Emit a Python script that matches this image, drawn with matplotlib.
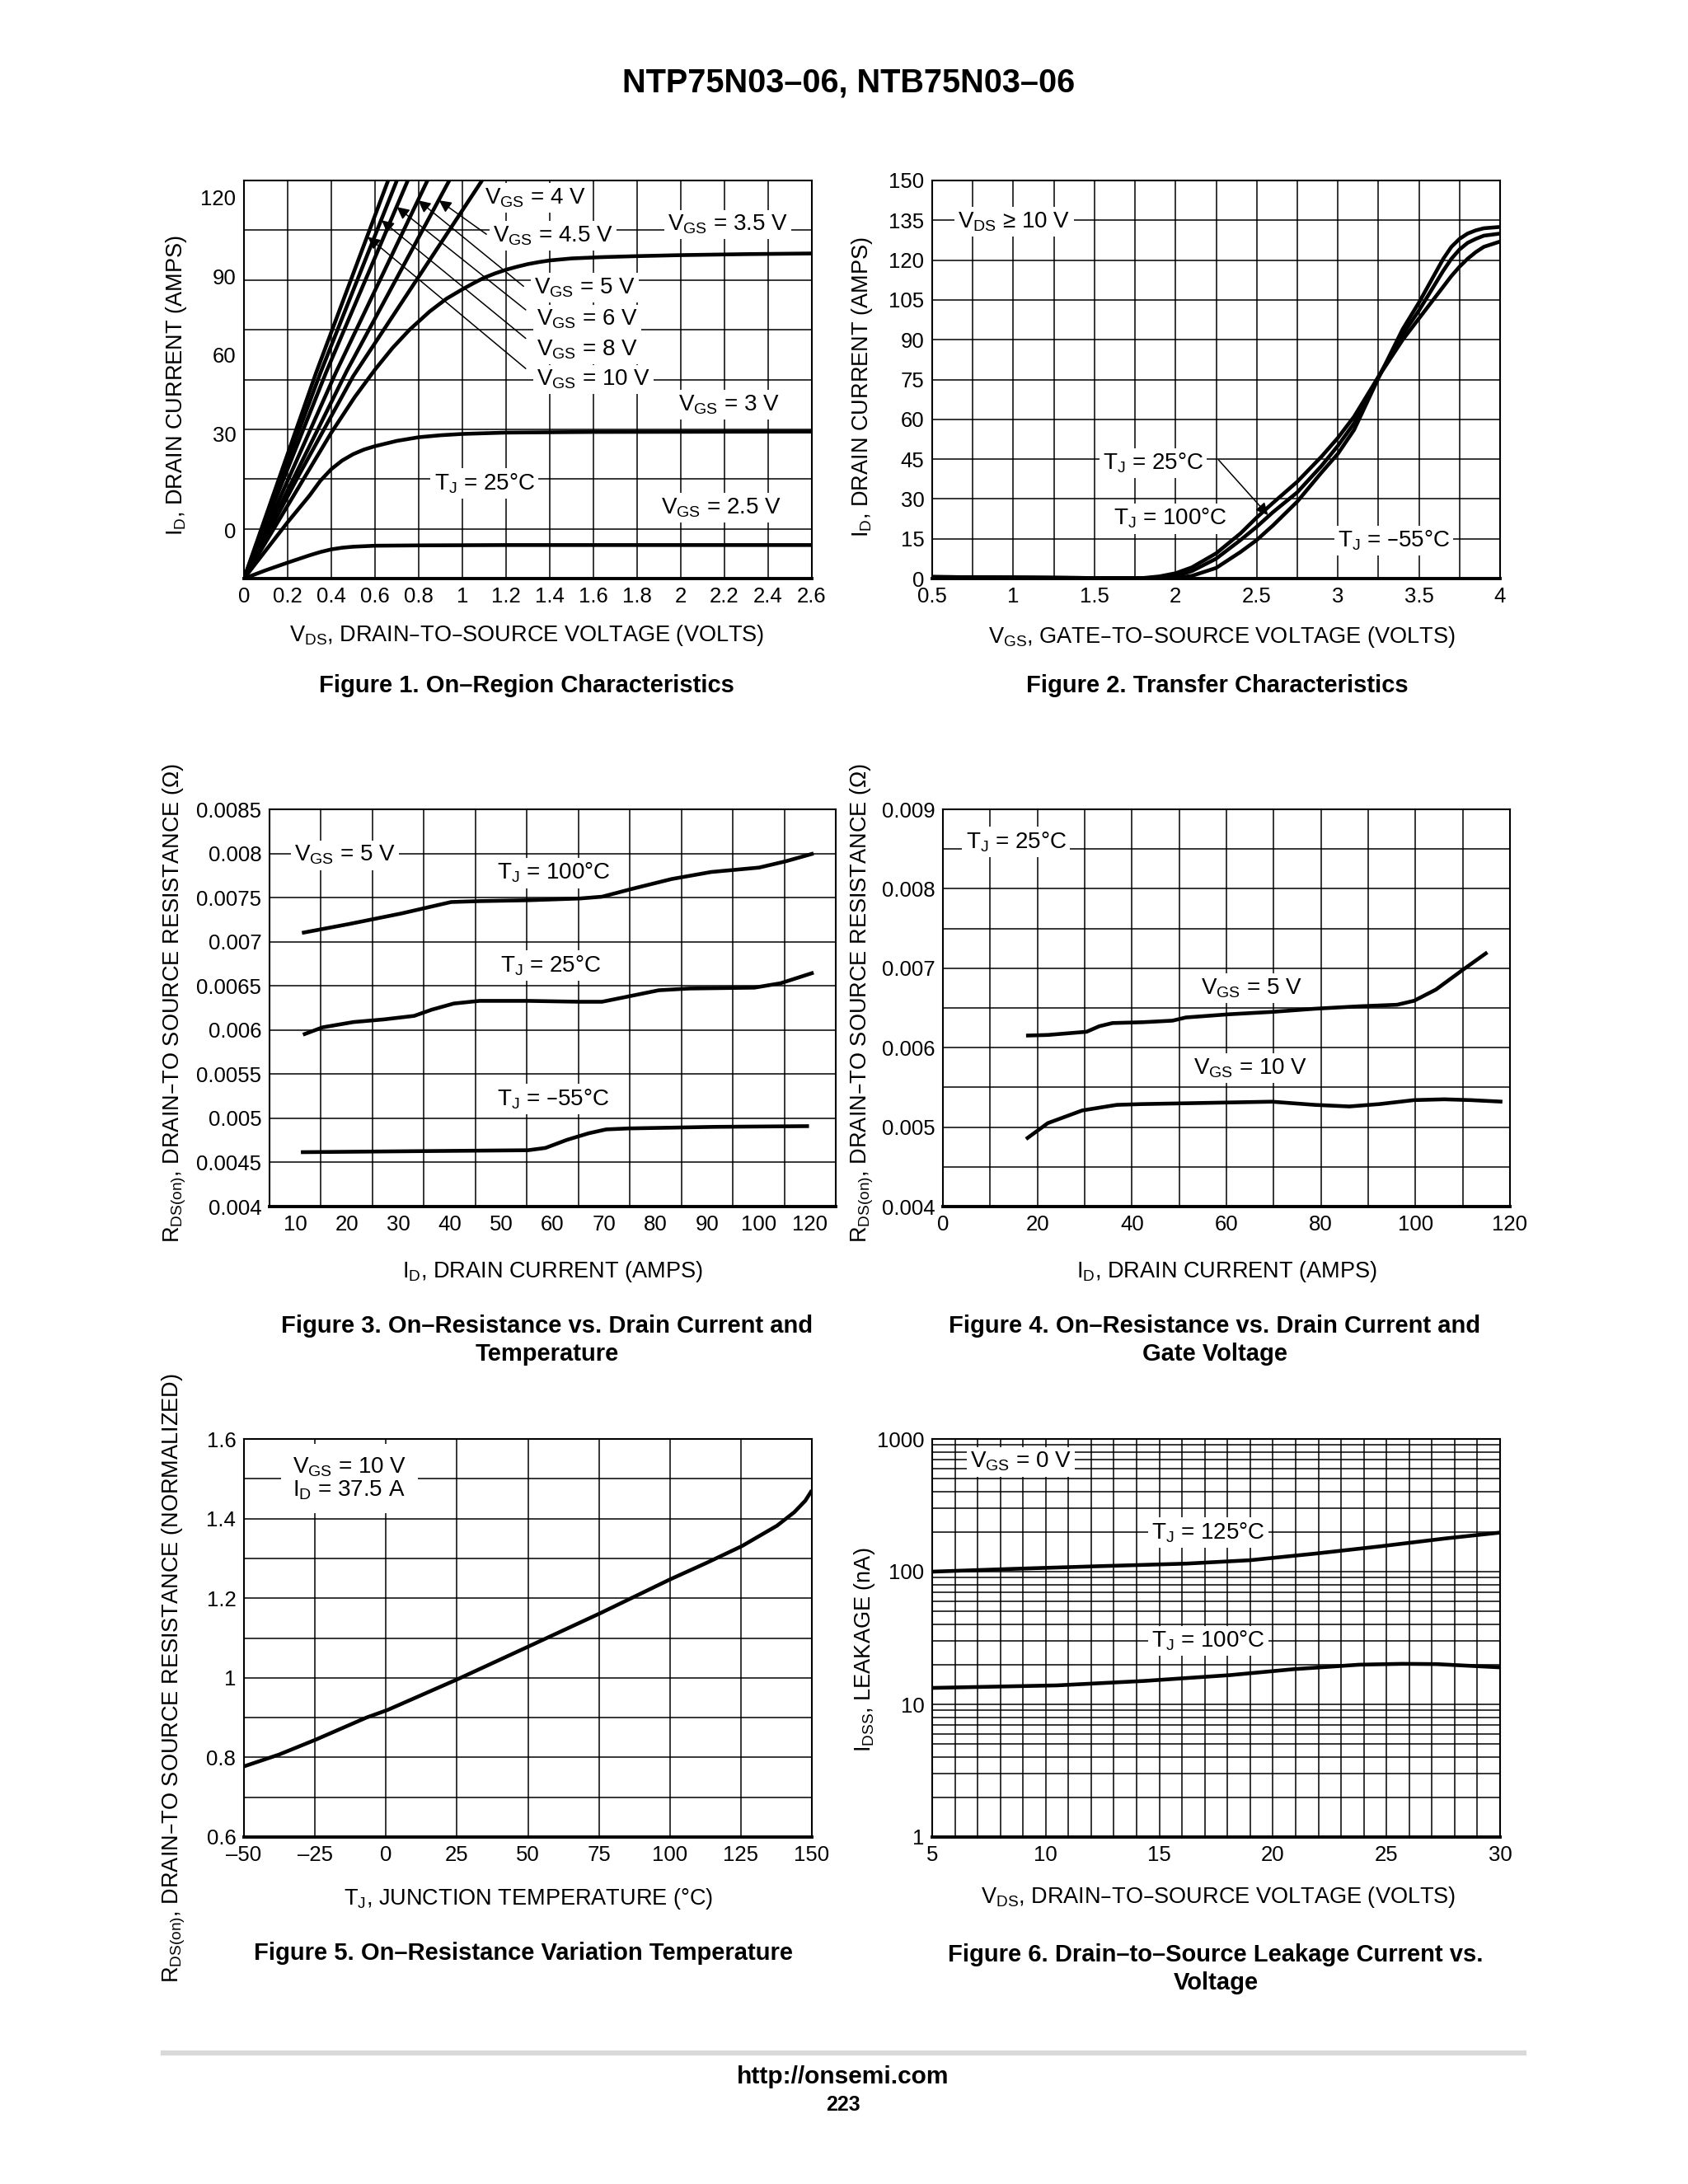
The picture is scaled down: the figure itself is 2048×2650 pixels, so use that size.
import numpy as np
import matplotlib
matplotlib.use('Agg')
import matplotlib.pyplot as plt
from matplotlib.lines import Line2D
from matplotlib.ticker import NullFormatter

plt.rcParams['font.family'] = ['Liberation Sans', 'DejaVu Sans']
plt.rcParams['mathtext.default'] = 'regular'

W, H = 2048, 2650

# ---- Figure 1: on-region characteristics (ID vs VDS) ----
vgs10_vds = [0.0, 0.33, 0.66]
vgs10_id = [0, 62, 120]
vgs8_vds = [0.0, 0.35, 0.70]
vgs8_id = [0, 62, 120]
vgs6_vds = [0.0, 0.375, 0.75]
vgs6_id = [0, 62, 120]
vgs5_vds = [0.0, 0.42, 0.84]
vgs5_id = [0, 62, 120]
vgs45_vds = [0.0, 0.47, 0.94]
vgs45_id = [0, 62.5, 120]
vgs4_vds = [0.0, 0.25, 0.5, 0.79, 1.09]
vgs4_id = [0, 31, 61, 90, 120]
vgs35_vds = [0, 0.2, 0.4, 0.506, 0.6, 0.68, 0.758, 0.85, 0.928, 1.0, 1.05, 1.1, 1.15,
             1.2, 1.25, 1.3, 1.35, 1.4, 1.5, 1.64, 1.8, 2.0, 2.3, 2.6]
vgs35_id = [0, 22, 44, 54.6, 63, 69.5, 75, 80.5, 84.4, 87.2, 89.0, 90.7, 92.0,
            93.1, 94.0, 94.8, 95.4, 95.9, 96.5, 96.9, 97.2, 97.5, 97.8, 98]
vgs3_vds = [0, 0.1, 0.2, 0.3, 0.35, 0.4, 0.45, 0.5, 0.55, 0.6, 0.7, 0.8, 0.9, 1.0, 1.2, 1.6, 2.6]
vgs3_id = [0, 8.5, 17, 25, 29.5, 33.0, 35.6, 37.5, 38.9, 39.9, 41.5, 42.6, 43.2, 43.6,
           44.0, 44.2, 44.3]
vgs25_vds = [0, 0.1, 0.2, 0.3, 0.35, 0.4, 0.45, 0.5, 0.6, 0.8, 1.2, 2.6]
vgs25_id = [0, 2.5, 4.8, 7.0, 8.0, 8.8, 9.3, 9.6, 9.9, 10.0, 10.1, 10.1]
fig1_ytick_pos = [14.5, 43.5, 67.5, 91, 115]
fig1_ytick_text = ['0', '30', '60', '90', '120']

# ---- Figure 2: transfer characteristics ----
vgs_tr = [0.5, 1.0, 1.5, 1.8, 1.9, 2.0, 2.1, 2.25, 2.4, 2.5, 2.6, 2.75, 2.9, 3.0,
          3.1, 3.25, 3.4, 3.5, 3.6, 3.65, 3.7, 3.75, 3.8, 3.85, 3.9, 4.0]
id_tj100 = [0.6, 0.4, 0.2, 0.2, 0.8, 2.0, 4.2, 9.5, 17, 23, 28.5, 36.5, 46, 53,
            61, 76, 90, 98, 106, 110, 114, 117.5, 120.5, 123, 125, 127]
id_tj25 = [0.6, 0.4, 0.2, 0.1, 0.3, 1.0, 2.8, 7.5, 14.5, 19.5, 25, 32.5, 42.5, 50,
           58.5, 76, 92, 101, 111, 116, 120.5, 124, 126.5, 128, 129.2, 130]
id_tjm55 = [0.6, 0.4, 0.2, 0.1, 0.1, 0.3, 1.0, 4.0, 10, 14.5, 20, 29, 40, 47,
            56, 75.5, 94, 104, 115, 120.5, 125, 128, 130, 131.2, 132, 132.5]

# ---- Figure 3: RDS(on) vs ID and temperature ----
t100_id = [11.3, 20.4, 30.6, 40.3, 45.8, 55.2, 65.3, 69.6, 75.5, 83.1, 90.8, 100.1, 105.2, 110.7]
t100_r = [0.0071, 0.0072, 0.00732, 0.00745, 0.00746, 0.00747, 0.00749, 0.00751,
          0.0076, 0.00771, 0.00779, 0.00784, 0.00791, 0.0080]
t25_id = [11.5, 15.3, 21.3, 27.2, 33.1, 36.5, 40.8, 45.8, 55.2, 65.3, 69.6, 74.7,
          80.6, 86.5, 99.2, 104.3, 110.7]
t25_r = [0.005947, 0.00603, 0.00609, 0.00612, 0.00616, 0.00623, 0.0063, 0.00633,
         0.00633, 0.00632, 0.00632, 0.00638, 0.00645, 0.00647, 0.00648, 0.00653, 0.00665]
tm55_id = [11.1, 32.3, 55.2, 58.6, 62.8, 67.0, 70.4, 74.7, 91.6, 109.8]
tm55_r = [0.004616, 0.004627, 0.004638, 0.004664, 0.004756, 0.00483, 0.004874,
          0.004885, 0.004903, 0.004911]
fig3_xtick_pos = [10, 20, 30, 40, 50, 60, 70, 80, 90, 100, 110]
fig3_xtick_text = ['10', '20', '30', '40', '50', '60', '70', '80', '90', '100', '120']

# ---- Figure 4: RDS(on) vs ID and gate voltage ----
g5_id = [17.6, 22.2, 30.4, 33.1, 35.9, 42.2, 48.6, 51.4, 60.5, 69.6, 78.7, 87.9,
         96.1, 99.7, 104.3, 109.8, 115.2]
g5_r = [0.006152, 0.00616, 0.0062, 0.00627, 0.00631, 0.00632, 0.00634, 0.00638,
        0.00642, 0.00645, 0.00649, 0.00652, 0.00654, 0.00659, 0.00673, 0.00697, 0.0072]
g10_id = [17.6, 22.2, 29.5, 36.8, 42.2, 51.4, 60.5, 69.6, 78.7, 86.0, 92.4, 99.7,
          106.1, 111.6, 118.4]
g10_r = [0.00485, 0.00505, 0.00521, 0.00528, 0.00529, 0.0053, 0.00531, 0.00532,
         0.00528, 0.00526, 0.00529, 0.00534, 0.00535, 0.00534, 0.00532]

# ---- Figure 5: normalized RDS(on) vs TJ ----
tj = [-50, -37.7, -24.6, -6.9, 0.5, 25.4, 50, 75.4, 100, 113, 125.4, 137.7, 143.8, 147.7, 150]
rnorm = [0.7775, 0.807, 0.845, 0.9, 0.919, 0.997, 1.078, 1.162, 1.247, 1.289,
         1.331, 1.382, 1.416, 1.445, 1.471]

# ---- Figure 6: IDSS leakage vs VDS ----
vds_lk = [5, 8.6, 12.4, 16.2, 19.0, 21.9, 24.7, 27.6, 30]
idss_125 = [100, 105, 110, 115, 122, 137, 155, 178, 197]
vds_lk100 = [5, 10.5, 14.3, 18.1, 20.9, 23.8, 25.7, 27.2, 30]
idss_100 = [13.3, 13.9, 15.0, 16.6, 18.4, 19.9, 20.2, 20.1, 19.0]

fig = plt.figure(figsize=(W / 100, H / 100), dpi=100)

def add_ax(left, top, right, bottom):
    return fig.add_axes([left / W, 1 - bottom / H, (right - left) / W, (bottom - top) / H])

def ftext(x, y, s, **kw):
    return fig.text(x / W, 1 - y / H, s, **kw)

def fmt(v):
    return ('%g' % round(v, 6)).replace('-', '\u2013')

def style(ax):
    ax.set_axisbelow(True)
    ax.tick_params(which='both', length=0, labelsize=18.5, pad=7)
    for sp in ax.spines.values():
        sp.set_linewidth(1.5)
    ax.spines['bottom'].set_linewidth(2.8)

GRID = dict(color='black', lw=1.1)
CURVE = dict(color='black', lw=3.3, solid_capstyle='butt', solid_joinstyle='round', zorder=5)
BOX = dict(facecolor='white', edgecolor='none', pad=3)
ANN = 20

# Figure 1
ax1 = add_ax(296, 219, 985, 702)
style(ax1)
ax1.set_xlim(0, 2.6)
ax1.set_ylim(0, 120)
xt = np.arange(0, 2.61, 0.2)
ax1.set_xticks(xt, [fmt(v) for v in xt])
ax1.xaxis.grid(True, which='major', **GRID)
ax1.set_yticks(np.arange(0, 121, 15), minor=True)
ax1.yaxis.grid(True, which='minor', **GRID)
ax1.set_yticks(fig1_ytick_pos, fig1_ytick_text)
for xs, ys in [(vgs10_vds, vgs10_id), (vgs8_vds, vgs8_id), (vgs6_vds, vgs6_id),
               (vgs5_vds, vgs5_id), (vgs45_vds, vgs45_id), (vgs4_vds, vgs4_id),
               (vgs35_vds, vgs35_id), (vgs3_vds, vgs3_id), (vgs25_vds, vgs25_id)]:
    ax1.plot(xs, ys, **CURVE)
fig1_labels = [(1.10, 114.8, 'V$_{GS}$ = 4 V'), (1.14, 103.3, 'V$_{GS}$ = 4.5 V'),
               (1.94, 106.7, 'V$_{GS}$ = 3.5 V'), (1.33, 87.6, 'V$_{GS}$ = 5 V'),
               (1.34, 78.1, 'V$_{GS}$ = 6 V'), (1.34, 69.0, 'V$_{GS}$ = 8 V'),
               (1.34, 60.0, 'V$_{GS}$ = 10 V'), (1.99, 52.4, 'V$_{GS}$ = 3 V'),
               (0.87, 28.6, 'T$_{J}$ = 25°C'), (1.91, 21.4, 'V$_{GS}$ = 2.5 V')]
for x, y, s in fig1_labels:
    ax1.text(x, y, s, fontsize=ANN, ha='left', va='center', bbox=BOX, zorder=4)
leaders = [((1.11, 103.8), (0.893, 114)), ((1.28, 88.1), (0.798, 114)),
           ((1.29, 81.0), (0.70, 112)), ((1.29, 72.4), (0.63, 108)),
           ((1.29, 63.3), (0.567, 103))]
for start, end in leaders:
    ax1.annotate('', xy=end, xytext=start, zorder=6,
                 arrowprops=dict(arrowstyle='-|>', color='black', lw=1.1,
                                 mutation_scale=22, shrinkA=0, shrinkB=0))

# Figure 2
ax2 = add_ax(1131, 219, 1820, 702)
style(ax2)
ax2.set_xlim(0.5, 4)
ax2.set_ylim(0, 150)
xt = np.arange(0.5, 4.01, 0.5)
ax2.set_xticks(xt, [fmt(v) for v in xt])
ax2.set_xticks(np.arange(0.5, 4.01, 0.25), minor=True)
ax2.xaxis.grid(True, which='both', **GRID)
yt = np.arange(0, 151, 15)
ax2.set_yticks(yt, [fmt(v) for v in yt])
ax2.yaxis.grid(True, which='major', **GRID)
for ys in [id_tj100, id_tj25, id_tjm55]:
    ax2.plot(vgs_tr, ys, **CURVE)
ax2.text(0.66, 134.5, 'V$_{DS}$ \u2265 10 V', fontsize=ANN, ha='left', va='center', bbox=BOX, zorder=4)
ax2.text(1.55, 43.5, 'T$_{J}$ = 25°C', fontsize=ANN, ha='left', va='center', bbox=BOX, zorder=4)
ax2.text(1.62, 22.6, 'T$_{J}$ = 100°C', fontsize=ANN, ha='left', va='center', bbox=BOX, zorder=4)
ax2.text(3.0, 14.3, 'T$_{J}$ = \u201355°C', fontsize=ANN, ha='left', va='center', bbox=BOX, zorder=4)
ax2.annotate('', xy=(2.57, 23.9), xytext=(2.265, 44.7), zorder=6,
             arrowprops=dict(arrowstyle='-|>', color='black', lw=1.1,
                             mutation_scale=22, shrinkA=0, shrinkB=0))

# Figure 3
ax3 = add_ax(327, 982, 1014, 1464)
style(ax3)
ax3.set_xlim(5, 115)
ax3.set_ylim(0.004, 0.0085)
ax3.set_xticks(np.arange(15, 106, 10), minor=True)
ax3.xaxis.grid(True, which='minor', **GRID)
ax3.set_xticks(fig3_xtick_pos, fig3_xtick_text)
yt = np.arange(0.004, 0.00851, 0.0005)
ax3.set_yticks(yt, [fmt(v) for v in yt])
ax3.yaxis.grid(True, which='major', **GRID)
ax3.plot(t100_id, t100_r, **CURVE)
ax3.plot(t25_id, t25_r, **CURVE)
ax3.plot(tm55_id, tm55_r, **CURVE)
ax3.text(9.8, 0.00798, 'V$_{GS}$ = 5 V', fontsize=ANN, ha='left', va='center', bbox=BOX, zorder=4)
ax3.text(49.2, 0.00778, 'T$_{J}$ = 100°C', fontsize=ANN, ha='left', va='center', bbox=BOX, zorder=4)
ax3.text(49.9, 0.00673, 'T$_{J}$ = 25°C', fontsize=ANN, ha='left', va='center', bbox=BOX, zorder=4)
ax3.text(49.2, 0.00522, 'T$_{J}$ = \u201355°C', fontsize=ANN, ha='left', va='center', bbox=BOX, zorder=4)

# Figure 4
ax4 = add_ax(1144, 982, 1832, 1464)
style(ax4)
ax4.set_xlim(0, 120)
ax4.set_ylim(0.004, 0.009)
xt = np.arange(0, 121, 20)
ax4.set_xticks(xt, [fmt(v) for v in xt])
ax4.set_xticks(np.arange(0, 121, 10), minor=True)
ax4.xaxis.grid(True, which='both', **GRID)
yt = np.arange(0.004, 0.00901, 0.001)
ax4.set_yticks(yt, [fmt(v) for v in yt])
ax4.set_yticks(np.arange(0.004, 0.00901, 0.0005), minor=True)
ax4.yaxis.grid(True, which='both', **GRID)
ax4.plot(g5_id, g5_r, **CURVE)
ax4.plot(g10_id, g10_r, **CURVE)
ax4.text(4.8, 0.00859, 'T$_{J}$ = 25°C', fontsize=ANN, ha='left', va='center', bbox=BOX, zorder=4)
ax4.text(54.6, 0.00675, 'V$_{GS}$ = 5 V', fontsize=ANN, ha='left', va='center', bbox=BOX, zorder=4)
ax4.text(53.0, 0.00574, 'V$_{GS}$ = 10 V', fontsize=ANN, ha='left', va='center', bbox=BOX, zorder=4)

# Figure 5
ax5 = add_ax(296, 1746, 985, 2229)
style(ax5)
ax5.set_xlim(-50, 150)
ax5.set_ylim(0.6, 1.6)
xt = np.arange(-50, 151, 25)
ax5.set_xticks(xt, [fmt(v) for v in xt])
ax5.xaxis.grid(True, which='major', **GRID)
yt = np.arange(0.6, 1.61, 0.2)
ax5.set_yticks(yt, [fmt(v) for v in yt])
ax5.set_yticks(np.arange(0.6, 1.61, 0.1), minor=True)
ax5.yaxis.grid(True, which='both', **GRID)
ax5.plot(tj, rnorm, **CURVE)
ax5.text(-33, 1.50, 'V$_{GS}$ = 10 V\nI$_{D}$ = 37.5 A', fontsize=ANN, ha='left', va='center',
         linespacing=1.05, bbox=dict(facecolor='white', edgecolor='none', pad=10), zorder=4)

# Figure 6
ax6 = add_ax(1131, 1746, 1820, 2229)
style(ax6)
ax6.set_yscale('log')
ax6.set_xlim(5, 30)
ax6.set_ylim(1, 1000)
xt = np.arange(5, 31, 5)
ax6.set_xticks(xt, [fmt(v) for v in xt])
ax6.set_xticks(np.arange(5, 31, 1), minor=True)
ax6.xaxis.grid(True, which='both', **GRID)
ax6.set_yticks([1, 10, 100, 1000], ['1', '10', '100', '1000'])
ax6.yaxis.set_minor_formatter(NullFormatter())
ax6.yaxis.grid(True, which='both', **GRID)
ax6.plot(vds_lk, idss_125, **CURVE)
ax6.plot(vds_lk100, idss_100, **CURVE)
ax6.text(6.67, 673, 'V$_{GS}$ = 0 V', fontsize=ANN, ha='left', va='center', bbox=BOX, zorder=4)
ax6.text(14.65, 197, 'T$_{J}$ = 125°C', fontsize=ANN, ha='left', va='center', bbox=BOX, zorder=4)
ax6.text(14.65, 30.1, 'T$_{J}$ = 100°C', fontsize=ANN, ha='left', va='center', bbox=BOX, zorder=4)

# axis labels
LAB = 19.5
ftext(639, 771, 'V$_{DS}$, DRAIN\u2013TO\u2013SOURCE VOLTAGE (VOLTS)', fontsize=LAB, ha='center', va='center')
ftext(214, 468, 'I$_{D}$, DRAIN CURRENT (AMPS)', fontsize=LAB, ha='center', va='center', rotation=90)
ftext(1482, 773, 'V$_{GS}$, GATE\u2013TO\u2013SOURCE VOLTAGE (VOLTS)', fontsize=LAB, ha='center', va='center')
ftext(1046, 470, 'I$_{D}$, DRAIN CURRENT (AMPS)', fontsize=LAB, ha='center', va='center', rotation=90)
ftext(670, 1543, 'I$_{D}$, DRAIN CURRENT (AMPS)', fontsize=LAB, ha='center', va='center')
ftext(212, 1217, 'R$_{DS(on)}$, DRAIN\u2013TO SOURCE RESISTANCE (\u03a9)', fontsize=LAB,
      ha='center', va='center', rotation=90)
ftext(1488, 1543, 'I$_{D}$, DRAIN CURRENT (AMPS)', fontsize=LAB, ha='center', va='center')
ftext(1046, 1217, 'R$_{DS(on)}$, DRAIN\u2013TO SOURCE RESISTANCE (\u03a9)', fontsize=LAB,
      ha='center', va='center', rotation=90)
ftext(641, 2304, 'T$_{J}$, JUNCTION TEMPERATURE (°C)', fontsize=LAB, ha='center', va='center')
ftext(211, 2036, 'R$_{DS(on)}$, DRAIN\u2013TO SOURCE RESISTANCE (NORMALIZED)', fontsize=LAB,
      ha='center', va='center', rotation=90)
ftext(1478, 2302, 'V$_{DS}$, DRAIN\u2013TO\u2013SOURCE VOLTAGE (VOLTS)', fontsize=LAB, ha='center', va='center')
ftext(1049, 2002, 'I$_{DSS}$, LEAKAGE (nA)', fontsize=LAB, ha='center', va='center', rotation=90)

# captions
CAP = 21
ftext(639, 832, 'Figure 1. On\u2013Region Characteristics', fontsize=CAP, weight='bold', ha='center', va='center')
ftext(1477, 832, 'Figure 2. Transfer Characteristics', fontsize=CAP, weight='bold', ha='center', va='center')
ftext(664, 1626, 'Figure 3. On\u2013Resistance vs. Drain Current and\nTemperature', fontsize=CAP,
      weight='bold', ha='center', va='center', linespacing=1.3)
ftext(1474, 1626, 'Figure 4. On\u2013Resistance vs. Drain Current and\nGate Voltage', fontsize=CAP,
      weight='bold', ha='center', va='center', linespacing=1.3)
ftext(635, 2370, 'Figure 5. On\u2013Resistance Variation Temperature', fontsize=CAP, weight='bold',
      ha='center', va='center')
ftext(1475, 2389, 'Figure 6. Drain\u2013to\u2013Source Leakage Current vs.\nVoltage', fontsize=CAP,
      weight='bold', ha='center', va='center', linespacing=1.3)

# page header / footer
ftext(1030, 101, 'NTP75N03\u201306, NTB75N03\u201306', fontsize=28.5, weight='bold', ha='center', va='center')
fig.add_artist(Line2D([198 / W, 1849 / W], [1 - 2491 / H] * 2, color='#d9d9d9', lw=4.5))
ftext(1023, 2520, 'http://onsemi.com', fontsize=21.5, weight='bold', ha='center', va='center')
ftext(1023, 2554, '223', fontsize=18, weight='bold', ha='center', va='center')

fig.savefig('out.png', dpi=100)
